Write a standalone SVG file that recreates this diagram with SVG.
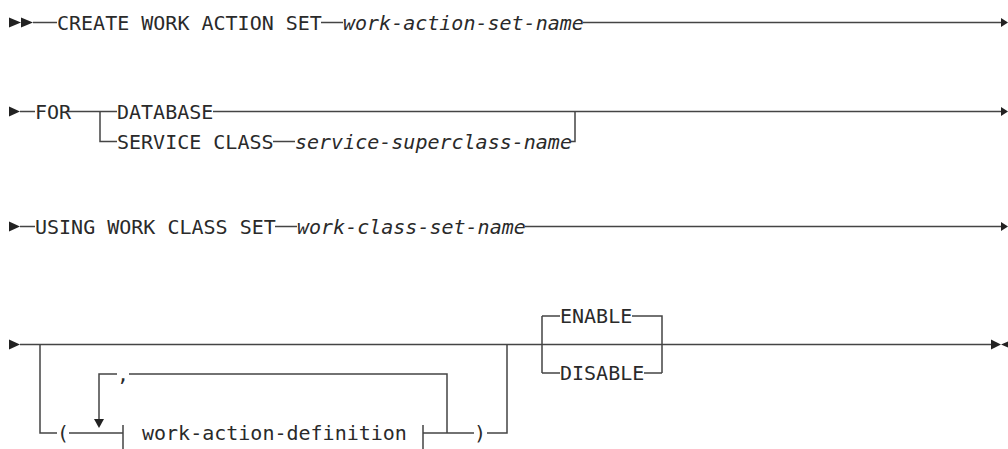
<svg xmlns="http://www.w3.org/2000/svg" width="1008" height="449" viewBox="0 0 1008 449">
<style>
.ln{stroke:#444;stroke-width:1.5;fill:none}
.ah{fill:#222;stroke:none}
.t{font-family:"DejaVu Sans Mono","Liberation Mono",monospace;font-size:20px;fill:#2a2a2a}
.i{font-style:italic}
</style>
<rect width="1008" height="449" fill="#fff"/>
<g id="connectors">
<!-- row 1 -->
<path class="ln" d="M33 22.5H57 M321 22.5H343 M583 22.5H1001"/>
<!-- row 2 -->
<path class="ln" d="M20 111.5H35 M67 111.5H117 M213 111.5H1001 M100 111.5V141.5H117 M273 141.5H295 M571 141.5H575V111.5"/>
<!-- row 3 -->
<path class="ln" d="M20 226.5H35 M275 226.5H297 M525 226.5H1001"/>
<!-- row 4 -->
<path class="ln" d="M20 344.5H991 M40 344.5V433H57 M69 433H123 M123 425V449 M423 425V449 M423 433H474 M487 433H507V344.5 M447 433V374H129 M117 374H99V420"/>
<path class="ln" d="M542 316V373 M542 316H560 M632 316H662V373 M542 373H560 M644 373H662"/>
</g>
<g id="arrowheads">
<path class="ah" d="M9 17.5L21 22.5L9 27.5Z M21 17.5L33 22.5L21 27.5Z"/>
<path class="ah" d="M1001 18L1008 22.5L1001 27Z"/>
<path class="ah" d="M9 106.5L20 111.5L9 116.5Z"/>
<path class="ah" d="M1001 107L1008 111.5L1001 116Z"/>
<path class="ah" d="M9 221.5L20 226.5L9 231.5Z"/>
<path class="ah" d="M1001 222L1008 226.5L1001 231Z"/>
<path class="ah" d="M9 339.5L20 344.5L9 349.5Z"/>
<path class="ah" d="M991 339.5L1001 344.5L991 349.5Z M1008 341.5L1001 344.5L1008 347.5Z"/>
<path class="ah" d="M94 419L104 419L99 428Z"/>
</g>
<g id="n-create">
<text class="t" x="57" y="30">CREATE WORK ACTION SET</text>
<text class="t i" x="343" y="30">work-action-set-name</text>
</g>
<g id="n-for">
<text class="t" x="35" y="118.5">FOR</text>
</g>
<g id="n-database">
<text class="t" x="117" y="118.5">DATABASE</text>
</g>
<g id="n-serviceclass">
<text class="t" x="117" y="148.5">SERVICE CLASS</text>
<text class="t i" x="295" y="148.5">service-superclass-name</text>
</g>
<g id="n-using">
<text class="t" x="35" y="233.5">USING WORK CLASS SET</text>
<text class="t i" x="297" y="233.5">work-class-set-name</text>
</g>
<g id="n-paren-open">
<text class="t" x="57" y="440">(</text>
</g>
<g id="n-comma">
<text class="t" x="117" y="381">,</text>
</g>
<g id="n-wad">
<text class="t" x="142" y="440">work-action-definition</text>
</g>
<g id="n-paren-close">
<text class="t" x="474" y="440">)</text>
</g>
<g id="n-enable">
<text class="t" x="560" y="323">ENABLE</text>
</g>
<g id="n-disable">
<text class="t" x="560" y="380">DISABLE</text>
</g>
</svg>
